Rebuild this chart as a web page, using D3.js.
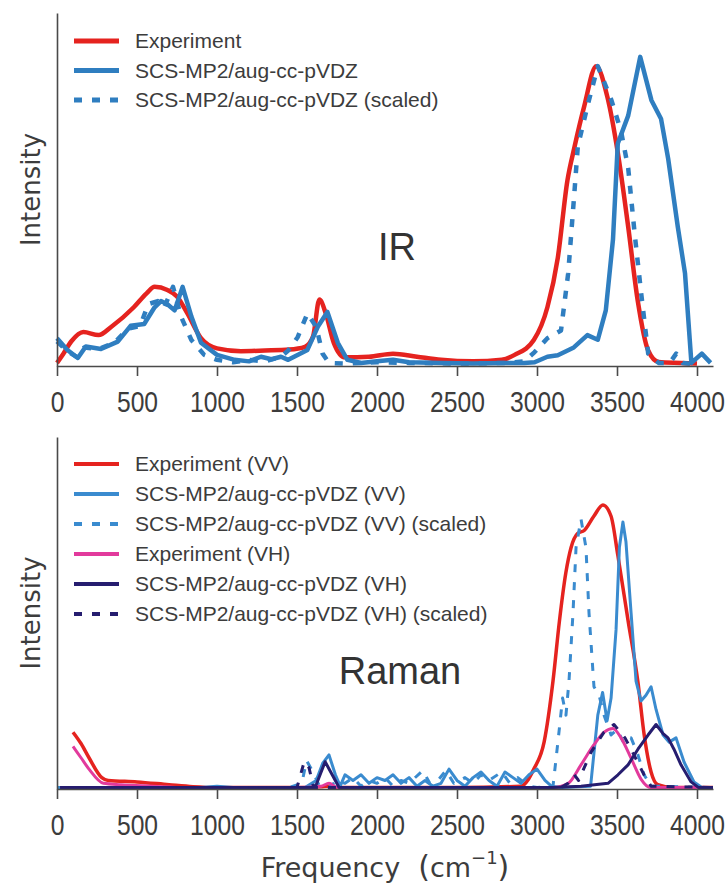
<html lang="en">
<head>
<style>
body { margin: 0; background: #fff; }
text { font-family: 'Liberation Sans', Arial, sans-serif; }
</style>
</head>
<body>
</body>
<script type='text/javascript' src='https://d3js.org/d3.v7.min.js'></script>
<script>
var width = 726, height = 886;

// shared x ticks
const freqTicks = [0,500,1000,1500,2000,2500,3000,3500,4000];

// IR panel: [frequency, intensity]
const irExperiment = [[0,0.01],[40,0.04],[90,0.08],[165,0.11],[260,0.10],[340,0.127],[480,0.19],[560,0.235],[610,0.256],[690,0.246],[750,0.225],[815,0.17],[900,0.09],[1000,0.057],[1150,0.048],[1300,0.05],[1450,0.053],[1550,0.062],[1600,0.095],[1640,0.215],[1680,0.17],[1730,0.075],[1800,0.028],[1950,0.03],[2100,0.04],[2250,0.03],[2400,0.02],[2600,0.015],[2780,0.02],[2860,0.036],[2980,0.084],[3065,0.19],[3130,0.35],[3190,0.6],[3235,0.71],[3295,0.84],[3370,0.97],[3440,0.87],[3505,0.69],[3570,0.45],[3630,0.21],[3695,0.05],[3760,0.013],[3900,0.01],[4000,0.008]];
const irComputed = [[0,0.09],[65,0.052],[130,0.026],[180,0.063],[275,0.055],[380,0.079],[460,0.13],[545,0.136],[610,0.19],[650,0.21],[690,0.2],[735,0.18],[785,0.256],[840,0.16],[900,0.075],[1000,0.036],[1110,0.02],[1200,0.015],[1275,0.03],[1340,0.022],[1400,0.03],[1445,0.02],[1565,0.052],[1630,0.127],[1690,0.175],[1755,0.075],[1815,0.02],[1900,0.01],[2000,0.015],[2100,0.02],[2200,0.012],[2400,0.01],[2600,0.008],[2800,0.01],[2920,0.01],[2985,0.012],[3065,0.03],[3130,0.035],[3230,0.06],[3315,0.10],[3380,0.085],[3430,0.18],[3475,0.41],[3505,0.72],[3570,0.81],[3645,1.0],[3715,0.86],[3775,0.80],[3820,0.67],[3880,0.45],[3925,0.30],[3965,0.01],[4030,0.04],[4085,0.01]];
const irScaled = [[0,0.08],[60,0.05],[120,0.03],[170,0.06],[260,0.055],[360,0.075],[440,0.12],[520,0.13],[570,0.2],[630,0.21],[670,0.19],[725,0.256],[775,0.16],[840,0.084],[920,0.036],[1000,0.02],[1100,0.012],[1200,0.02],[1300,0.015],[1400,0.03],[1445,0.05],[1505,0.094],[1565,0.17],[1620,0.127],[1660,0.04],[1700,0.01],[1800,0.008],[2000,0.012],[2200,0.01],[2500,0.008],[2800,0.01],[2920,0.015],[2985,0.045],[3065,0.09],[3150,0.115],[3195,0.30],[3235,0.57],[3255,0.71],[3315,0.84],[3380,0.97],[3465,0.86],[3525,0.76],[3570,0.64],[3610,0.43],[3650,0.24],[3695,0.04],[3760,0.01],[3830,0.01],[3870,0.04],[3910,0.01],[4000,0.005]];
const irLabels = ['Experiment','SCS-MP2/aug-cc-pVDZ','SCS-MP2/aug-cc-pVDZ (scaled)'];

// Raman panel
const ramanExpVV = [[100,0.2],[150,0.16],[200,0.11],[280,0.04],[320,0.03],[500,0.025],[700,0.015],[850,0.008],[1000,0.005],[1500,0.005],[1650,0.008],[1700,0.01],[1750,0.005],[2500,0.005],[2900,0.01],[2980,0.07],[3045,0.167],[3100,0.38],[3140,0.59],[3180,0.76],[3213,0.85],[3255,0.9],[3295,0.91],[3355,0.96],[3412,1.0],[3463,0.96],[3506,0.82],[3570,0.59],[3630,0.38],[3670,0.19],[3713,0.06],[3755,0.015],[3850,0.005],[4100,0.005]];
const ramanCompVV = [[0,0.005],[900,0.005],[1000,0.01],[1100,0.005],[1550,0.005],[1620,0.03],[1660,0.09],[1700,0.12],[1740,0.05],[1770,0.01],[1800,0.05],[1850,0.03],[1900,0.05],[1950,0.02],[2000,0.04],[2050,0.03],[2100,0.05],[2150,0.02],[2200,0.04],[2250,0.01],[2300,0.03],[2350,0.01],[2400,0.02],[2450,0.07],[2500,0.03],[2550,0.01],[2600,0.04],[2650,0.06],[2700,0.03],[2750,0.01],[2800,0.06],[2850,0.04],[2900,0.02],[2950,0.05],[3000,0.07],[3050,0.03],[3090,0.01],[3150,0.005],[3335,0.01],[3380,0.26],[3410,0.34],[3438,0.24],[3463,0.32],[3494,0.56],[3515,0.85],[3537,0.94],[3556,0.87],[3588,0.62],[3619,0.38],[3650,0.31],[3681,0.33],[3713,0.36],[3744,0.28],[3788,0.19],[3825,0.165],[3869,0.18],[3919,0.095],[3981,0.025],[4030,0.005],[4100,0.005]];
const ramanScaledVV = [[0,0.005],[1450,0.005],[1530,0.02],[1560,0.1],[1600,0.06],[1640,0.01],[1700,0.005],[1750,0.03],[1800,0.02],[1850,0.04],[1900,0.01],[1950,0.03],[2000,0.02],[2050,0.04],[2100,0.01],[2150,0.03],[2200,0.02],[2286,0.065],[2330,0.02],[2380,0.03],[2431,0.065],[2480,0.02],[2550,0.04],[2600,0.02],[2650,0.05],[2700,0.03],[2780,0.06],[2830,0.02],[2880,0.04],[2950,0.01],[3000,0.005],[3100,0.01],[3131,0.167],[3160,0.32],[3181,0.26],[3200,0.38],[3225,0.62],[3244,0.85],[3275,0.95],[3306,0.85],[3325,0.62],[3356,0.36],[3388,0.33],[3419,0.26],[3463,0.19],[3500,0.21],[3545,0.16],[3588,0.18],[3631,0.12],[3669,0.05],[3713,0.01],[4100,0.005]];
const ramanExpVH = [[100,0.15],[150,0.11],[200,0.07],[290,0.02],[400,0.015],[600,0.01],[800,0.005],[1500,0.005],[1650,0.01],[1700,0.02],[1750,0.005],[3100,0.005],[3195,0.02],[3275,0.085],[3355,0.155],[3420,0.2],[3475,0.213],[3525,0.18],[3590,0.106],[3650,0.035],[3710,0.005],[4100,0.005]];
const ramanCompVH = [[20,0.005],[1600,0.005],[1620,0.015],[1676,0.096],[1720,0.05],[1763,0.005],[3100,0.005],[3275,0.01],[3444,0.02],[3506,0.05],[3569,0.085],[3631,0.14],[3694,0.19],[3744,0.227],[3788,0.195],[3819,0.18],[3856,0.14],[3900,0.085],[3963,0.025],[4010,0.005],[4100,0.005]];
const ramanScaledVH = [[20,0.005],[1500,0.005],[1545,0.096],[1575,0.075],[1604,0.005],[3150,0.005],[3194,0.02],[3233,0.05],[3260,0.03],[3338,0.13],[3419,0.2],[3481,0.227],[3550,0.18],[3606,0.12],[3669,0.05],[3713,0.01],[4100,0.005]];
const ramanLabels = ['Experiment (VV)','SCS-MP2/aug-cc-pVDZ (VV)','SCS-MP2/aug-cc-pVDZ (VV) (scaled)','Experiment (VH)','SCS-MP2/aug-cc-pVDZ (VH)','SCS-MP2/aug-cc-pVDZ (VH) (scaled)'];

var red = '#e5231f', blue = '#2f7ec0', lightBlue = '#3a8bcf', pink = '#e23a9c', navy = '#261d6f';
var axisColor = '#4a4a4a', textColor = '#3c3c3c';

var svg = d3.select('body').append('svg').attr('width',width).attr('height',height);
svg.append('rect').attr('width',width).attr('height',height).attr('fill','#fff');

var x = d3.scaleLinear().domain([0,4100]).range([57,713]);

function drawPanel(p) {
  var y = d3.scaleLinear().domain([0,p.yMax]).range([p.bottom,p.top]);
  var g = svg.append('g');

  // curves
  p.series.forEach(function(s) {
    var line = d3.line()
      .x(function(d) { return x(d[0]) })
      .y(function(d) { return y(d[1]) })
      .curve(s.smooth ? d3.curveMonotoneX : d3.curveLinear);
    g.append('path')
      .datum(s.data)
      .attr('d', line)
      .attr('fill','none')
      .attr('stroke', s.color)
      .attr('stroke-width', s.width)
      .attr('stroke-linejoin','round')
      .attr('stroke-dasharray', s.dashed ? '8,10' : null);
  });

  // axes
  var xa = g.append('g')
    .attr('transform','translate(0,' + p.bottom + ')')
    .call(d3.axisBottom(x).tickValues(freqTicks).tickFormat(d3.format('d')).tickSize(10).tickSizeOuter(0));
  var ya = g.append('g')
    .attr('transform','translate(' + x(0) + ',0)')
    .call(d3.axisLeft(y).tickValues([]).tickSizeOuter(0));
  g.selectAll('.domain, .tick line').attr('stroke',axisColor).attr('stroke-width',1.6);
  // narrow tick labels, squeezed horizontally like the original
  xa.selectAll('.tick text')
    .attr('y',46).attr('dy',0)
    .attr('transform','scale(0.85,1)')
    .attr('fill',textColor)
    .style('font-family',"'Liberation Sans', sans-serif")
    .style('font-size','29px');

  g.append('text')
    .attr('transform','translate(40,' + (p.top + p.bottom) / 2 + ') rotate(-90)')
    .attr('text-anchor','middle')
    .attr('fill',textColor)
    .style('font-family',"'DejaVu Sans', sans-serif")
    .style('font-size','26px')
    .text('Intensity');

  // legend
  var lg = g.selectAll('.legend').data(p.series).join('g')
    .attr('transform', function(d,i) { return 'translate(0,' + (p.legendTop + i * p.legendStep) + ')' });
  lg.append('line')
    .attr('x1',74).attr('x2',119)
    .attr('stroke', function(d) { return d.color })
    .attr('stroke-width', p.legendWidth)
    .attr('stroke-dasharray', function(d) { return d.dashed ? '8,10' : null });
  lg.append('text')
    .attr('x',135).attr('y',7)
    .attr('fill',textColor)
    .style('font-size','21px')
    .text(function(d,i) { return p.labels[i] });

  g.append('text')
    .attr('x',p.titleX).attr('y',p.titleY)
    .attr('text-anchor','middle')
    .attr('fill','#333')
    .style('font-size','38px')
    .text(p.title);
}

drawPanel({
  top: 13, bottom: 366, yMax: 1.142,
  series: [
    {data: irExperiment, color: red, width: 4.5, smooth: true},
    {data: irComputed, color: blue, width: 4.5},
    {data: irScaled, color: blue, width: 4.5, dashed: true}
  ],
  labels: irLabels, legendTop: 41, legendStep: 29.5, legendWidth: 5,
  title: 'IR', titleX: 397, titleY: 260
});

drawPanel({
  top: 437, bottom: 789, yMax: 1.239,
  series: [
    {data: ramanExpVV, color: red, width: 3.5, smooth: true},
    {data: ramanCompVV, color: lightBlue, width: 3},
    {data: ramanScaledVV, color: lightBlue, width: 3, dashed: true},
    {data: ramanExpVH, color: pink, width: 3, smooth: true},
    {data: ramanCompVH, color: navy, width: 3},
    {data: ramanScaledVH, color: navy, width: 3, dashed: true}
  ],
  labels: ramanLabels, legendTop: 464, legendStep: 30, legendWidth: 4,
  title: 'Raman', titleX: 400, titleY: 684
});

// x axis label with superscript
var xl = svg.append('text')
  .attr('x',385).attr('y',877)
  .attr('text-anchor','middle')
  .attr('fill',textColor)
  .style('font-family',"'DejaVu Sans', sans-serif")
  .style('font-size','27px');
xl.append('tspan').text('Frequency');
xl.append('tspan').attr('dx',18).style('font-size','30px').text('(');
xl.append('tspan').text('cm');
xl.append('tspan').attr('dy',-13).style('font-size','18px').text('\u22121');
xl.append('tspan').attr('dy',13).style('font-size','30px').text(')');

console.log('ready..');
</script>
</html>
